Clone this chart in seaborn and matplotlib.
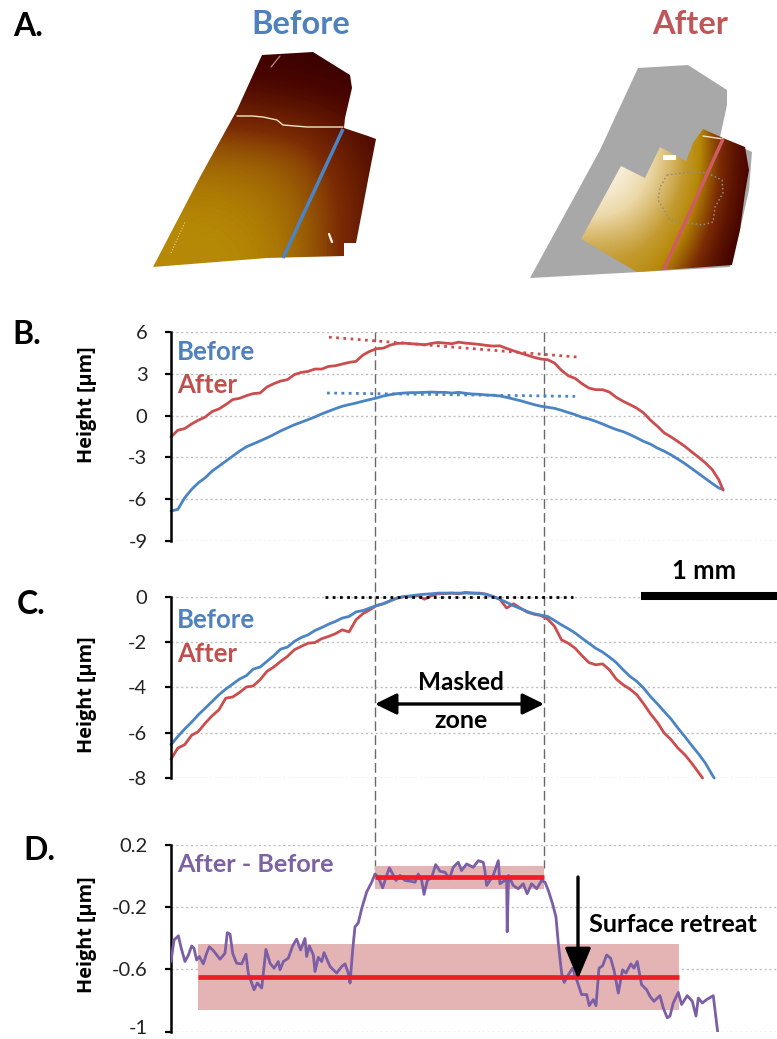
import numpy as np
import matplotlib
matplotlib.use("Agg")
import matplotlib.pyplot as plt
from matplotlib.colors import LinearSegmentedColormap
from matplotlib.patches import Polygon, FancyArrowPatch
from matplotlib.transforms import blended_transform_factory, ScaledTranslation
import seaborn as sns

# ---- data ----
STEP_MM = 0.05
b_before = [-6.85,-6.73,-5.9,-5.3,-4.82,-4.46,-3.98,-3.63,-3.27,-2.91,-2.55,-2.24,-2.03,-1.82,-1.6,-1.36,-1.1,-0.88,-0.66,-0.48,-0.29,-0.1,0.12,0.31,0.5,0.67,0.79,0.9,1.03,1.15,1.26,1.41,1.5,1.58,1.62,1.65,1.65,1.67,1.69,1.67,1.67,
            1.62,1.67,1.6,1.55,1.53,1.48,1.46,1.41,1.31,1.19,1.07,0.93,0.79,0.67,0.6,0.52,0.38,0.22,0.07,-0.12,-0.24,-0.41,-0.6,-0.81,-1.0,-1.15,-1.36,-1.6,-1.85,-2.05,-2.33,-2.55,-2.82,-3.12,-3.44,-3.79,-4.15,-4.51,-4.87,-5.2,-5.3]
b_after = [-1.53,-1.05,-0.93,-0.6,-0.33,-0.1,0.29,0.48,0.79,1.15,1.24,1.43,1.58,1.62,2.05,2.29,2.48,2.58,2.94,3.1,3.17,3.34,3.34,3.53,3.58,3.7,3.82,3.89,4.34,4.61,4.8,4.84,5.06,5.18,5.2,5.16,5.13,5.08,5.18,5.25,5.2,
           5.16,5.27,5.2,5.16,5.11,5.04,4.99,5.01,4.82,4.65,4.49,4.34,4.18,4.06,4.01,3.77,3.25,2.86,2.67,2.29,1.98,1.86,1.86,1.69,1.31,1.03,0.79,0.53,0.19,-0.33,-0.76,-1.24,-1.53,-1.86,-2.2,-2.6,-2.98,-3.39,-3.87,-4.63,-5.35]
b_end_mm = 4.03
c_before = [-6.53,-6.17,-5.84,-5.54,-5.21,-4.92,-4.63,-4.33,-4.08,-3.86,-3.64,-3.49,-3.2,-3.11,-2.86,-2.61,-2.32,-2.23,-1.98,-1.81,-1.69,-1.5,-1.37,-1.22,-1.1,-0.95,-0.88,-0.68,-0.62,-0.51,-0.4,-0.32,-0.19,-0.07,0,0.03,0.07,0.1,0.12,0.15,0.15,
            0.15,0.15,0.15,0.15,0.13,0.1,0,-0.12,-0.26,-0.41,-0.53,-0.66,-0.76,-0.82,-0.88,-1.06,-1.25,-1.42,-1.61,-1.84,-2.06,-2.28,-2.45,-2.67,-2.91,-3.23,-3.52,-3.74,-4.04,-4.41,-4.73,-5.07,-5.4,-5.8,-6.17,-6.56,-6.93,-7.34,-7.86,-8]
c_before_end_mm = 3.965
c_after = [-7.17,-6.68,-6.53,-6.12,-5.95,-5.58,-5.26,-4.99,-4.48,-4.43,-4.23,-3.99,-3.94,-3.67,-3.3,-3.11,-2.86,-2.64,-2.35,-2.2,-2.06,-2.03,-1.86,-1.76,-1.64,-1.47,-1.56,-1.03,-0.76,-0.59,-0.4,-0.32,-0.19,-0.07,-0.01,0,0.04,-0.12,0.03,0.12,0.13,
           0.15,0.12,0.18,0.15,0.15,0.1,0,-0.12,-0.51,-0.32,-0.51,-0.69,-0.78,-0.84,-1.0,-1.32,-1.91,-2.06,-2.28,-2.61,-2.91,-3.01,-2.97,-3.23,-3.64,-3.89,-4.08,-4.33,-4.73,-5.17,-5.55,-6.02,-6.31,-6.68,-6.97,-7.34,-7.75,-8]
c_after_end_mm = 3.88

d_x = [0,.022,.054,.073,.102,.127,.151,.168,.187,.207,.236,.26,.28,.309,.358,.394,.411,.431,.45,.479,.516,.547,.564,.589,.606,.63,.662,.693,.723,.752,.783,.796,.82,.856,.888,.917,.946,.978,.99,1.01,1.039,1.051,1.075,1.1,1.117,1.161,1.209,1.246,1.27,1.294,1.307,1.326,1.343,1.367,1.392,1.428,1.465,1.489,
       1.513,1.545,1.574,1.594,1.618,1.642,1.672,1.708,1.745,1.781,1.805,1.83,1.847,1.871,1.903,1.932,1.964,2.0,2.032,2.06,2.097,2.121,2.158,2.206,2.243,2.279,2.291,2.304,2.328,2.352,2.389,2.401,2.437,2.45,2.454,2.464,2.498,2.535,2.571,2.6,2.632,2.669,2.705,2.73,
       2.754,2.785,2.81,2.827,2.851,2.87,2.9,2.931,2.961,2.997,3.034,3.053,3.082,3.102,3.124,3.15,3.18,3.209,3.233,3.265,3.296,3.321,3.357,3.379,3.403,3.435,3.472,3.496,3.525,3.569,3.593,3.622,3.642,3.666,3.703,3.727,3.768,3.805,3.832,3.849,3.878,3.91,3.958,3.99]
d_y = [-.551,-.413,-.386,-.46,-.551,-.509,-.451,-.466,-.541,-.519,-.566,-.498,-.456,-.481,-.536,-.498,-.366,-.375,-.498,-.562,-.566,-.504,-.625,-.689,-.732,-.689,-.721,-.473,-.562,-.594,-.551,-.604,-.551,-.53,-.451,-.407,-.477,-.403,-.519,-.451,-.509,-.615,-.524,-.551,-.494,-.583,-.625,-.583,-.566,-.625,-.689,-.477,-.328,-.303,-.211,-.105,-.042,.011,
       -.01,-.078,.001,.05,.011,-.031,.001,-.031,-.035,-.042,.011,-.031,-.12,-.031,-.01,.071,.028,.022,-.02,.054,.086,.033,.075,.054,.096,.086,.033,-.063,-.031,.001,.096,-.052,-.031,-.031,-.36,.001,-.063,-.084,-.052,-.116,-.052,-.084,-.031,-.042,
       -.095,-.18,-.265,-.434,-.625,-.685,-.636,-.594,-.668,-.763,-.763,-.834,-.795,-.834,-.594,-.579,-.509,-.53,-.604,-.753,-.604,-.625,-.566,-.594,-.551,-.7,-.732,-.774,-.806,-.77,-.848,-.912,-.901,-.817,-.749,-.827,-.77,-.806,-.901,-.785,-.817,-.795,-.77,-1.0]

masked_zone_mm = [1.489, 2.723]
b_after_trend_x, b_after_trend_y = [1.153, 2.97], [5.63, 4.2]
b_before_trend_x, b_before_trend_y = [1.139, 2.95], [1.62, 1.38]
c_trend_x, c_trend_y = [1.124, 2.934], [0, 0]
d_mean_in_x, d_mean_in_y, d_band_in = masked_zone_mm, -0.01, (-0.084, 0.06)
d_mean_out_x, d_mean_out_y, d_band_out = [0.197, 3.708], -0.651, (-0.865, -0.439)

b_ticks = [6, 3, 0, -3, -6, -9]
c_ticks = [0, -2, -4, -6, -8]
d_ticks = [0.2, -0.2, -0.6, -1]
d_labels = ["0.2", "-0.2", "-0.6", "-1"]

surface_before = [[.08,.08,.06,.05,.03,.03],
                  [.20,.20,.18,.16,.12,.10],
                  [.40,.40,.39,.36,.22,.10],
                  [.47,.47,.46,.41,.28,.10],
                  [.49,.49,.48,.43,.26,.10]]
surface_after = [[1,1,.82,.60,.18,.05],
                 [1,1,.82,.60,.18,.05],
                 [.85,.85,.72,.52,.15,.05],
                 [.62,.62,.60,.40,.08,.05],
                 [.55,.55,.48,.22,.05,.05]]

# ---- style ----
sns.set_theme(style="white")
plt.rcParams["font.family"] = ["Lato", "DejaVu Sans"]
plt.rcParams["axes.unicode_minus"] = False
BLUE, RED, PURPLE = "#4a84c4", "#cb4d4d", "#7a5ea6"
TXT_BLUE, TXT_RED, TXT_PURPLE = "#4f81bd", "#c0504d", "#7b62a3"
W, H = 777, 1039
fig = plt.figure(figsize=(W/100, H/100), dpi=100)
PX_PER_MM = 137.0
LEFT = 171

cv = fig.add_axes([0, 0, 1, 1], zorder=3)
cv.patch.set_alpha(0)
cv.axis("off")
cmap = LinearSegmentedColormap.from_list("afm", [(0, "#2e0000"), (.12, "#480500"), (.3, "#7c2c04"),
                                                 (.48, "#b58805"), (.6, "#c39a30"), (.8, "#ecd8a8"), (1, "#fffdf8")])

def surface(grid, extent, poly):
    im = cv.imshow(grid, cmap=cmap, vmin=0, vmax=1, extent=extent, aspect="auto", interpolation="bicubic", zorder=2)
    patch = Polygon(poly, closed=True, transform=cv.transData, fc="none", ec="none")
    cv.add_patch(patch)
    im.set_clip_path(patch)

surface(surface_before, (125, 425, 275, 25),
        [(262,55),(313,52),(350,75),(352,88),(345,118),(344,128),(368,136),(376,139),(368,180),(362,212),(356,243),
         (344,243),(344,256),(267,258),(153,267),(200,177),(237,110)])
cv.add_patch(Polygon([(638,68),(688,65),(727,90),(727,105),(720,137),(752,152),(749,190),(740,230),(730,267),(640,272),(530,278),(600,150)],
                     closed=True, fc="#a8a8a8", ec="none", zorder=1.5))
surface(surface_after, (550, 790, 310, 110),
        [(703,129),(723,138),(745,147),(749,170),(745,193),(740,230),(732,265),(637,272),(581,239),(621,166),(645,178),(660,147),(686,161),(693,143)])
cv.plot([237,252,263,277,283,307,343], [116,116,117,120,125,127,127], color="#f3e6c8", lw=1, zorder=3)
cv.plot([271,280], [67,56], color="#c99a70", lw=.8, zorder=3)
cv.plot([171,185], [253,222], color="#e8cf9a", lw=.8, ls=":", zorder=3)
cv.plot([329,332], [234,242], color="#fff8e8", lw=1.6, zorder=3)
cv.plot([703,723], [136,139], color="#f5e6c0", lw=1, zorder=3)
cv.add_patch(Polygon([(663,155),(676,155),(676,160),(663,160)], fc="white", ec="none", zorder=3))
cv.plot([667,690,707,722,723,715,713,702,670,658,660,667], [175,172,173,180,193,207,222,225,220,200,187,175],
        color="#8d8d8d", lw=1.1, ls=":", zorder=3)
cv.plot([343,283], [129,258], color=BLUE, lw=2.5, zorder=4, solid_capstyle="butt")
cv.plot([723,664], [139,269], color="#cf5b63", lw=2.5, zorder=4, solid_capstyle="butt")
cv.set_xlim(0, W)
cv.set_ylim(H, 0)

def label(x, y, s, color="black", size=12, ha="center", weight="bold"):
    cv.text(x, y, s, color=color, fontsize=size, ha=ha, va="center", fontweight=weight, zorder=6)

label(301, 25, "Before", TXT_BLUE, 23.5)
label(690, 25, "After", "#c0565a", 23.5)
label(13, 27, "A.", size=23, ha="left")
label(12, 335, "B.", size=23, ha="left")
label(17, 605, "C.", size=23, ha="left")
label(23, 851, "D.", size=23, ha="left")
label(177, 352, "Before", TXT_BLUE, 18.5, "left")
label(177, 385, "After", TXT_RED, 18.5, "left")
label(177, 620, "Before", TXT_BLUE, 18.5, "left")
label(177, 654, "After", TXT_RED, 18.5, "left")
label(177, 864, "After - Before", TXT_PURPLE, 18.2, "left")
label(704, 571, "1 mm", size=18.5)
label(461, 683, "Masked", size=17.5)
label(461, 721, "zone", size=18)
label(589, 924, "Surface retreat", size=18.2, ha="left")
cv.plot([641, 777], [596, 596], color="black", lw=5.8, solid_capstyle="butt", zorder=5)
for start, end, style in [((375, 704), (544, 704), "<|-|>,head_length=0.65,head_width=0.32"),
                          ((578, 877), (578, 979), "-|>,head_length=0.95,head_width=0.4")]:
    cv.add_patch(FancyArrowPatch(start, end, arrowstyle=style, mutation_scale=20, color="black", lw=2.4,
                                 shrinkA=0, shrinkB=0, zorder=6))

def panel(top, bottom, ylim, ticks, label_center, labels=None):
    ax = fig.add_axes([LEFT/W, 1 - bottom/H, (W-LEFT)/W, (bottom-top)/H], zorder=2)
    ax.patch.set_alpha(0)
    ax.set_xlim(0, (W-LEFT)/PX_PER_MM)
    ax.set_ylim(*ylim)
    sns.despine(ax=ax, top=True, right=True, bottom=True)
    ax.spines["left"].set_linewidth(1.8)
    ax.spines["left"].set_color("black")
    ax.set_xticks([])
    ax.set_yticks(ticks)
    if labels:
        ax.set_yticklabels(labels)
    ax.tick_params(axis="y", length=4, width=1.6, color="black", left=True, labelsize=14.5, pad=13, labelcolor="#222222")
    ax.grid(axis="y", color="#bdbdbd", lw=1, ls=(0, (1.5, 2)))
    ax.set_axisbelow(True)
    ax.set_ylabel("Height [µm]", fontsize=14.3, fontweight="bold", color="black", family=["Open Sans", "DejaVu Sans"])
    ax.yaxis.set_label_coords(-74/(W-LEFT), label_center)
    return ax

def curve(ax, y, end_mm, color):
    x = list(np.arange(len(y) - 1) * STEP_MM) + [end_mm]
    sns.lineplot(x=x, y=y, ax=ax, color=color, lw=2, estimator=None, sort=False, errorbar=None, legend=False)
    ax.lines[-1].set_clip_on(False)

ax_b = panel(332, 541, (-9, 6), b_ticks, .65)
curve(ax_b, b_before, b_end_mm, BLUE)
curve(ax_b, b_after, b_end_mm, RED)
ax_b.plot(b_after_trend_x, b_after_trend_y, color=RED, lw=2, ls=(0, (1, 1.6)))
ax_b.plot(b_before_trend_x, b_before_trend_y, color=BLUE, lw=2, ls=(0, (1, 1.6)))

ax_c = panel(596.5, 778, (-8, 0), c_ticks, .457)
curve(ax_c, c_after, c_after_end_mm, RED)
curve(ax_c, c_before, c_before_end_mm, BLUE)
ax_c.plot(c_trend_x, c_trend_y, color="black", lw=2, ls=(0, (1, 1.6)), clip_on=False)

ax_d = panel(844.5, 1031.5, (-1, 0.2), d_ticks, .52, d_labels)
ax_d.axhspan(*d_band_out, xmin=d_mean_out_x[0]/ax_d.get_xlim()[1], xmax=d_mean_out_x[1]/ax_d.get_xlim()[1], color="#e4b4b4", lw=0, zorder=1.5)
ax_d.axhspan(*d_band_in, xmin=d_mean_in_x[0]/ax_d.get_xlim()[1], xmax=d_mean_in_x[1]/ax_d.get_xlim()[1], color="#e4b4b4", lw=0, zorder=1.5)
sns.lineplot(x=d_x, y=d_y, ax=ax_d, color=PURPLE, lw=2, estimator=None, sort=False, errorbar=None, legend=False, zorder=3)
ax_d.hlines(d_mean_out_y, *d_mean_out_x, color="#ee1c25", lw=3.4, zorder=4)
ax_d.hlines(d_mean_in_y, *d_mean_in_x, color="#ee1c25", lw=3.4, zorder=4)
# the bottom tick label sits right at the figure edge: nudge it inside
bottom_label = ax_d.get_yticklabels()[-1]
bottom_label.set_transform(bottom_label.get_transform() + ScaledTranslation(0, 3/72, fig.dpi_scale_trans))

# masked-zone guides run across panels B, C and D
tr = blended_transform_factory(ax_b.transData, ax_b.transAxes)
for x_mm, end_px in zip(masked_zone_mm, (872, 868)):
    ax_b.plot([x_mm, x_mm], [1, (541 - end_px) / 209], transform=tr, color="#6a6a6a", lw=1,
              ls=(0, (7, 3)), clip_on=False, zorder=1)

fig.savefig("out.png", dpi=100)
